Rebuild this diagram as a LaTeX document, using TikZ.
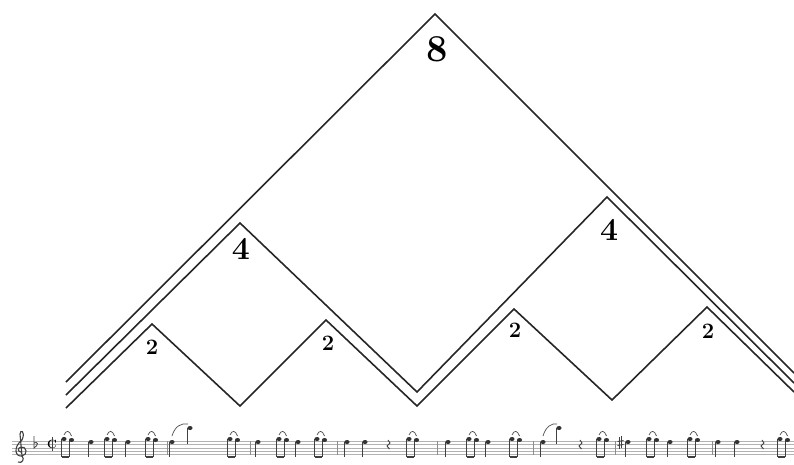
\documentclass[tikz,border=0pt]{standalone}
\usepackage{tikz}
\usetikzlibrary{positioning,calc}

\tikzset{
  zig/.style={draw=black!85, line width=1.6pt, line join=miter},
  lbl/.style={inner sep=0pt, outer sep=0pt},
  staffline/.style={draw=black!30, line width=0.5pt},
  stem/.style={draw=black!75, line width=0.8pt},
  note/.style={fill=black!80},
  slur/.style={draw=black!70, line width=0.7pt},
  beam/.style={draw=black!75, line width=1.6pt},
  pair/.pic={
    \draw[stem] (-5.5,439) -- (-5.5,457);
    \draw[stem] (2,440) -- (2,457);
    \draw[beam] (-5.5,457) -- (2,457);
    \fill[note] (-3,439) ellipse (2.6 and 2);
    \fill[note] (4.5,440) ellipse (2.6 and 2);
    \draw[slur] (-3,435) .. controls (-1,430) and (2.5,430) .. (4.5,436);
  },
  quarter/.pic={
    \fill[note] (0,442) ellipse (2.6 and 2);
    \draw[stem] (-2.3,442) -- (-2.3,457);
  },
  hnote/.pic={
    \fill[note] (0,428) ellipse (2.6 and 2);
    \draw[stem] (-2.3,428) -- (-2.3,444);
  },
  bar/.pic={
    \draw[staffline, draw=black!45] (0,441) -- (0,454.6);
  },
  rest/.pic={
    \draw[stem, line width=0.9pt] (0,440) -- (2,443) -- (-1,446) -- (1.5,449);
  }
}

\begin{document}
\begin{tikzpicture}[x=1pt,y=-1pt]
\useasboundingbox (0,0) rectangle (794,464);

\coordinate (l2) at (66,408);
\coordinate (p2a) at (152,324);
\coordinate (v2a) at (240,406);
\coordinate (p2b) at (326,320);
\coordinate (v2b) at (417,406);
\coordinate (p2c) at (514,309);
\coordinate (v2c) at (612,400);
\coordinate (p2d) at (707,307);
\coordinate (r2) at (794,392);

\coordinate (l4) at (66,395);
\coordinate (p4a) at (240,223);
\coordinate (v4) at (417,392);
\coordinate (p4b) at (607,197);
\coordinate (r4) at (794,383);

\coordinate (l8) at (66,382);
\coordinate (p8) at (435,14);
\coordinate (r8) at (794,373);

\draw[zig] (l8) -- (p8) -- (r8);
\draw[zig] (l4) -- (p4a) -- (v4) -- (p4b) -- (r4);
\draw[zig] (l2) -- (p2a) -- (v2a) -- (p2b) -- (v2b) -- (p2c) -- (v2c) -- (p2d) -- (r2);

\node[lbl, font=\fontsize{38}{38}\selectfont\bfseries] (n8) at (437,49) {8};
\node[lbl, font=\fontsize{32}{32}\selectfont\bfseries] (n4a) at (241,249) {4};
\node[lbl, font=\fontsize{32}{32}\selectfont\bfseries] (n4b) at (609,230) {4};
\node[lbl, font=\fontsize{22}{22}\selectfont\bfseries] (n2a) at (152,347) {2};
\node[lbl, font=\fontsize{22}{22}\selectfont\bfseries] (n2b) at (328,343) {2};
\node[lbl, font=\fontsize{22}{22}\selectfont\bfseries] (n2c) at (515,330) {2};
\node[lbl, font=\fontsize{22}{22}\selectfont\bfseries] (n2d) at (708,331) {2};

\foreach \k in {0,...,4}
  \draw[staffline] (12,441+3.4*\k) -- (794,441+3.4*\k);

\draw[stem, line width=1.1pt] (18,462) .. controls (22,464) and (25,459) .. (22,456) -- (20,434)
  .. controls (20,429) and (26,431) .. (22,440) .. controls (13,447) and (15,457) .. (22,456)
  .. controls (28,455) and (27,446) .. (21,447) .. controls (17,448) and (18,452) .. (21,452);
\draw[stem] (34,436) -- (34,448) .. controls (39,445) and (38,441) .. (34,443);
\node[lbl, font=\fontsize{12}{12}\selectfont\bfseries] (cut) at (52,444) {C};
\draw[stem] (52,437) -- (52,451);

\foreach \px in {67,110,151,233,282,320,412,472,515,602,652,693,783}
  \pic at (\px,0) {pair};
\foreach \px in {91,128,172,258,298,347,365,448,488,543,628,670,718,737}
  \pic at (\px,0) {quarter};
\foreach \px in {190,559}
  \pic at (\px,0) {hnote};
\foreach \px in {167,250,337,437,533,615,712}
  \pic at (\px,0) {bar};
\foreach \px in {388,580,762}
  \pic at (\px,0) {rest};

\draw[slur] (172,436) .. controls (175,426) and (181,423) .. (188,424);
\draw[slur] (543,436) .. controls (546,426) and (552,423) .. (557,424);

\draw[stem] (619,437) -- (619,449);
\draw[stem] (621.5,436) -- (621.5,448);
\draw[stem] (617.5,441.5) -- (623.5,440.5);
\draw[stem] (617.5,445.5) -- (623.5,444.5);
\end{tikzpicture}
\end{document}
